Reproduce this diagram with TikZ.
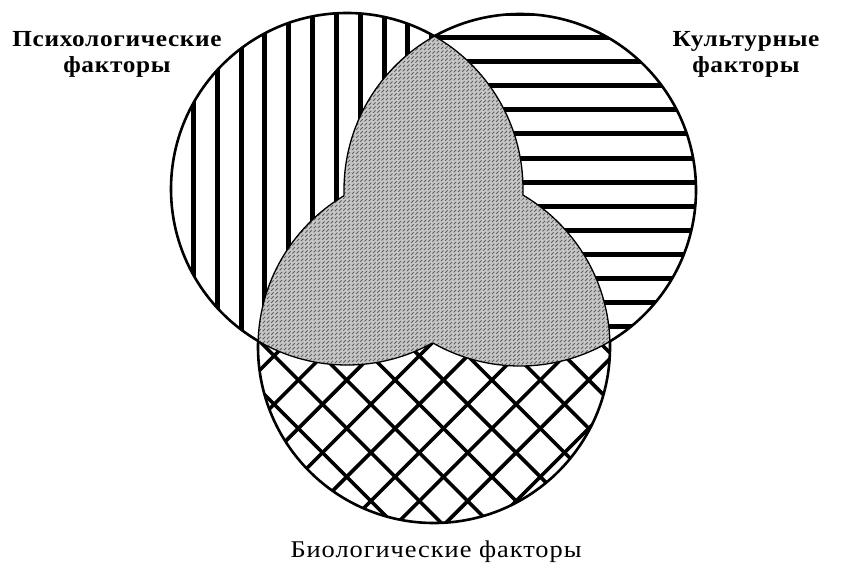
\documentclass[tikz,border=0pt]{standalone}
\usepackage{fontspec}
\setmainfont{Liberation Serif}
\usepackage{tikz}
\usetikzlibrary{positioning}

\newcommand{\rad}{176}

\begin{document}
\begin{tikzpicture}[
  x=1pt,y=1pt,
  outer/.style={line width=2.6pt,black},
  inner/.style={line width=1.3pt,black},
  vbar/.style={line width=5pt,black},
  hbar/.style={line width=5pt,black},
  netline/.style={line width=3.6pt,black},
  lensfill/.style={fill=black!22},
  texline/.style={line width=0.9pt,black!62,dash pattern=on 3.5pt off 2.5pt},
  toplabel/.style={font=\fontsize{23}{26}\selectfont\bfseries\addfontfeature{FakeStretch=1.1,LetterSpace=3},align=center},
  botlabel/.style={font=\fontsize{24}{28}\selectfont\addfontfeature{FakeStretch=1.1,LetterSpace=4}}
]
  \useasboundingbox (0,0) rectangle (842,566);
  \fill[white] (0,0) rectangle (842,566);

  % circle centres
  \coordinate (psy)  at (347,377);
  \coordinate (cult) at (520,376);
  \coordinate (bio)  at (434,219);

  % vertical stripes
  \begin{scope}
    \clip (psy) circle[radius=\rad];
    \foreach \k in {-1,...,14}
      \draw[vbar] ({193.3+23.85*\k},190) -- ++(0,380);
  \end{scope}

  % horizontal stripes
  \begin{scope}
    \clip (cult) circle[radius=\rad];
    \foreach \k in {-1,...,14}
      \draw[hbar] (335,{528-24*\k}) -- ++(370,0);
  \end{scope}

  % diagonal net
  \begin{scope}
    \clip (bio) circle[radius=\rad];
    \foreach \m in {-10,...,6}
      \draw[netline] (250,{137.7+48.4*\m}) -- (620,{507.7+48.4*\m});
    \foreach \m in {-4,...,11}
      \draw[netline] (250,{234.3+48.4*\m}) -- (620,{-135.7+48.4*\m});
  \end{scope}

  % shaded overlaps
  \foreach \a/\b in {psy/cult,cult/bio,bio/psy}{
    \begin{scope}
      \clip (\a) circle[radius=\rad];
      \fill[lensfill] (\b) circle[radius=\rad];
      \clip (\b) circle[radius=\rad];
      \foreach \c in {-412,-408,...,276}
        \draw[texline] (250,250+\c) -- (620,620+\c);
    \end{scope}
  }

  % outlines
  \foreach \a/\b/\c in {psy/cult/bio,cult/bio/psy,bio/psy/cult}{
    \begin{scope}[even odd rule]
      \clip (0,0) rectangle (842,566) (\b) circle[radius=\rad];
      \clip (0,0) rectangle (842,566) (\c) circle[radius=\rad];
      \draw[outer] (\a) circle[radius=\rad];
    \end{scope}
    \begin{scope}
      \clip (\b) circle[radius=\rad];
      \begin{scope}[even odd rule]
        \clip (0,0) rectangle (842,566) (\c) circle[radius=\rad];
        \draw[inner] (\a) circle[radius=\rad];
      \end{scope}
    \end{scope}
    \begin{scope}
      \clip (\c) circle[radius=\rad];
      \begin{scope}[even odd rule]
        \clip (0,0) rectangle (842,566) (\b) circle[radius=\rad];
        \draw[inner] (\a) circle[radius=\rad];
      \end{scope}
    \end{scope}
  }

  % labels
  \node[toplabel] (psylab)  at (117,512) {Психологические\\факторы};
  \node[toplabel] (cultlab) at (746,512) {Культурные\\факторы};
  \node[botlabel,anchor=base] (biolab) at (436,9) {Биологические факторы};
\end{tikzpicture}
\end{document}
